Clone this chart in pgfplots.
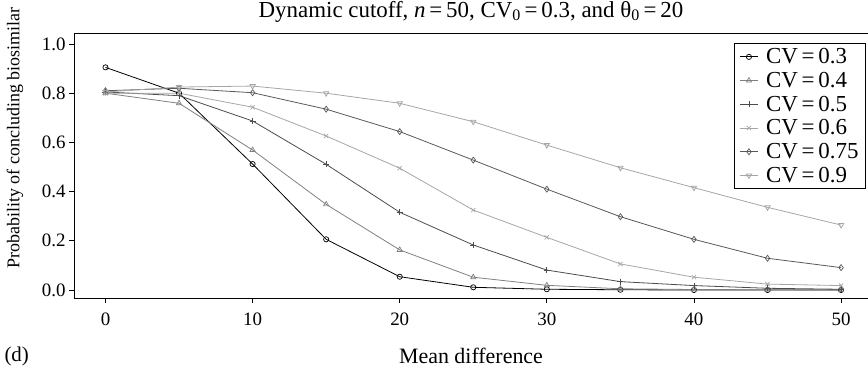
\documentclass[border=0pt]{standalone}
\usepackage{fontspec}
\setmainfont{Liberation Serif}
\usepackage{pgfplots}
\pgfplotsset{compat=1.18}
\definecolor{cA}{gray}{0.0}
\definecolor{cB}{gray}{0.5}
\definecolor{cC}{gray}{0.3}
\definecolor{cD}{gray}{0.65}
\definecolor{cE}{gray}{0.35}
\definecolor{cF}{gray}{0.65}
\begin{document}
\begin{tikzpicture}
\begin{axis}[
  at={(0,0)}, anchor=south west,
  scale only axis, width=794bp, height=265bp,
  xmin=-2.14, xmax=51.83, ymin=-0.0325, ymax=1.0447,
  axis x line=box, axis y line=left,
  every outer x axis line/.append style={-, line width=0.9bp},
  every outer y axis line/.append style={-, line width=0.9bp},
  xtick={0,10,20,30,40,50},
  ytick={0,0.2,0.4,0.6,0.8,1.0},
  yticklabel style={/pgf/number format/.cd, fixed, fixed zerofill, precision=1},
  /pgf/number format/assume math mode=true,
  xtick pos=bottom, ytick pos=left,
  tick align=outside, major tick length=5bp,
  tick style={black, line width=0.8bp},
  tick label style={font=\fontsize{19}{22}\selectfont},
  xticklabel style={yshift=-6bp},
  title={Dynamic cutoff, \textit{n}\,=\,50, CV\textsubscript{0}\,=\,0.3, and θ\textsubscript{0}\,=\,20},
  title style={font=\fontsize{23}{26}\selectfont, at={(0.5,1)}, anchor=base, yshift=10bp},
  legend style={at={(rel axis cs:0.9975,0.962)}, anchor=north east,
    draw=black, line width=0.9bp, fill=white,
    font=\fontsize{23}{24}\selectfont, row sep=3bp, inner xsep=5bp, inner ysep=3bp},
  legend cell align=left,
  legend image code/.code={\draw[mark repeat=2,mark phase=2] plot coordinates {(0cm,0cm) (0.33cm,0cm) (0.66cm,0cm)}; \path (0.85cm,0cm);},
  every axis plot/.append style={line width=0.8bp, mark size=3bp, mark options={solid, line width=0.7bp}},
]
\addplot[color=cA, mark=o, mark size=2.6bp] coordinates {(0,0.905) (5,0.800) (10,0.512) (15,0.206) (20,0.054) (25,0.011) (30,0.003) (35,0.001) (40,0.0) (45,0.0) (50,0.0)};
\addlegendentry{CV\,=\,0.3}
\addplot[color=cB, mark=triangle] coordinates {(0,0.800) (5,0.759) (10,0.569) (15,0.348) (20,0.163) (25,0.052) (30,0.019) (35,0.005) (40,0.002) (45,0.001) (50,0.0)};
\addlegendentry{CV\,=\,0.4}
\addplot[color=cC, mark=+] coordinates {(0,0.805) (5,0.790) (10,0.687) (15,0.511) (20,0.316) (25,0.183) (30,0.081) (35,0.034) (40,0.018) (45,0.007) (50,0.003)};
\addlegendentry{CV\,=\,0.5}
\addplot[color=cD, mark=x] coordinates {(0,0.800) (5,0.800) (10,0.743) (15,0.626) (20,0.495) (25,0.325) (30,0.214) (35,0.106) (40,0.052) (45,0.024) (50,0.018)};
\addlegendentry{CV\,=\,0.6}
\addplot[color=cE, mark=diamond] coordinates {(0,0.810) (5,0.820) (10,0.802) (15,0.735) (20,0.644) (25,0.528) (30,0.410) (35,0.298) (40,0.206) (45,0.129) (50,0.091)};
\addlegendentry{CV\,=\,0.75}
\addplot[color=cF, mark=triangle, mark options={rotate=180}] coordinates {(0,0.805) (5,0.825) (10,0.829) (15,0.800) (20,0.759) (25,0.684) (30,0.589) (35,0.497) (40,0.416) (45,0.336) (50,0.264)};
\addlegendentry{CV\,=\,0.9}
\end{axis}
\node[rotate=90, font=\fontsize{18}{21}\selectfont] at (-59bp,160bp) {Probability of concluding biosimilar};
\node[font=\fontsize{22}{24}\selectfont] at (397bp,-58bp) {Mean difference};
\node[font=\fontsize{21}{24}\selectfont, anchor=west] at (-73bp,-58bp) {(d)};
\pgfresetboundingbox
\useasboundingbox (-74bp,-72bp) rectangle (794bp,298bp);
\end{tikzpicture}
\end{document}
